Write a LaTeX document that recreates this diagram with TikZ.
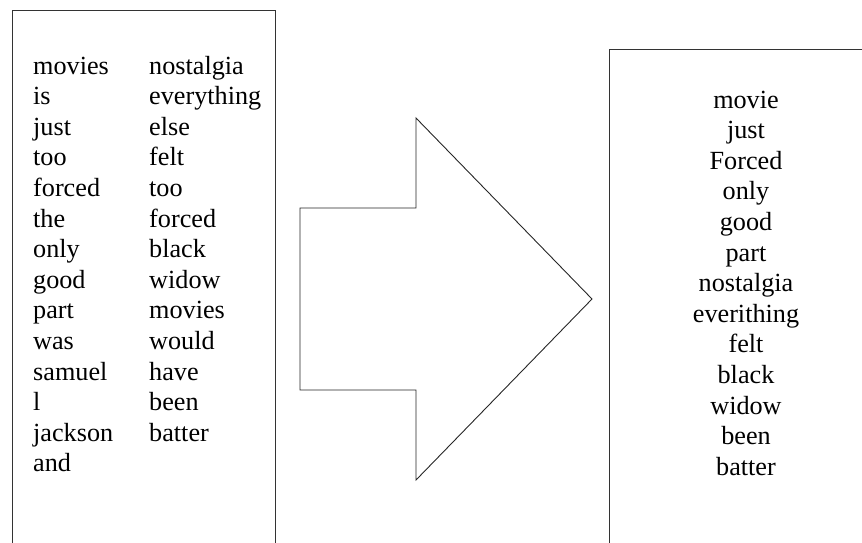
\documentclass[tikz,border=0pt]{standalone}
\usepackage{fontspec}
\setmainfont{Liberation Serif}
\begin{document}
\begin{tikzpicture}[x=1pt,y=-1pt,
  frame/.style={draw=black!80,line width=1pt},
  bigarrow/.style={draw=black!85,line width=0.9pt,line join=miter},
  word/.style={inner sep=0pt,font=\fontsize{26.2}{30.6}\selectfont},
  leftword/.style={word,anchor=base west},
  midword/.style={word,anchor=base}]
\useasboundingbox (0,0) rectangle (862,542);
\clip (0,0) rectangle (862,542);
% left box (bottom runs off the page)
\draw[frame] (12,560) -- (12,10) -- (275,10) -- (275,560);
% right box (right and bottom run off the page)
\draw[frame] (609,560) -- (609,49) -- (880,49);
% block arrow
\coordinate (a1) at (300,208);
\coordinate (a2) at (416,208);
\coordinate (a3) at (416,118);
\coordinate (a4) at (592,299);
\coordinate (a5) at (416,480);
\coordinate (a6) at (416,390);
\coordinate (a7) at (300,390);
\draw[bigarrow] (a1) -- (a2) -- (a3) -- (a4) -- (a5) -- (a6) -- (a7) -- cycle;
% left column words
\foreach \w [count=\i from 0] in {movies,is,just,too,forced,the,only,good,part,was,samuel,l,jackson,and}
  \node[leftword] (la\i) at (33,74+30.6*\i) {\w};
\foreach \w [count=\i from 0] in {nostalgia,everything,else,felt,too,forced,black,widow,movies,would,have,been,batter}
  \node[leftword] (lb\i) at (149,74+30.6*\i) {\w};
% right column words
\foreach \w [count=\i from 0] in {movie,just,Forced,only,good,part,nostalgia,everithing,felt,black,widow,been,batter}
  \node[midword] (r\i) at (746,108+30.6*\i) {\w};
\end{tikzpicture}
\end{document}
